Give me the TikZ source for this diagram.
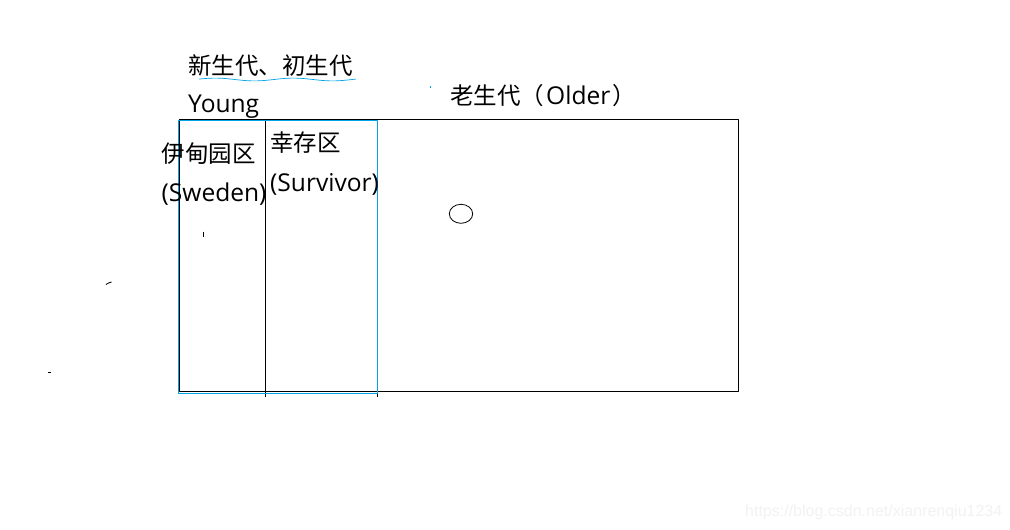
\documentclass[tikz,border=0pt]{standalone}
\usepackage{fontspec}
\newfontfamily\cjk{Noto Sans CJK SC}
\newfontfamily\latin[Scale=1.045]{Open Sans}
\newfontfamily\markfont{Liberation Sans}
\definecolor{paintblue}{RGB}{0,162,232}
\tikzset{
  lbl/.style={anchor=base west, inner sep=0pt, font=\fontsize{23.5}{28}\selectfont},
  heapline/.style={draw=black, line width=1pt},
  youngline/.style={draw=paintblue, line width=1.3pt},
}
\begin{document}
\begin{tikzpicture}[x=1pt, y=-1pt, line join=round]
\useasboundingbox[fill=white] (0,0) rectangle (1010,530);
\def\xl{179} \def\xm{265.5} \def\xs{377.3} \def\xr{738}
\def\yt{119.5} \def\yb{391.5}
% heap
\draw[heapline] (\xl,\yt) rectangle (\xr,\yb);
\draw[heapline] (\xm,\yt) -- (\xm,397);
\draw[heapline] (\xs,393) -- (\xs,397);
\draw[youngline] (178.5,120.7) rectangle (\xs,393.7);
% labels
\node[lbl] (young-cn) at (188,74) {\cjk 新生代、初生代};
\draw[paintblue, line width=0.7pt, domain=199:356, samples=80] plot (\x,{79.5+1.4*sin(4.6*\x)});
\node[lbl] (young-en) at (188,112.7) {\latin Young};
\node[lbl] (eden-cn) at (161.5,162.5) {\cjk 伊甸园区};
\node[lbl] (eden-en) at (161.5,201.5) {\latin (Sweden)};
\node[lbl] (surv-cn) at (270,151) {\cjk 幸存区};
\node[lbl] (surv-en) at (270,191.5) {\latin (Survivor)};
\node[lbl] (old) at (450,104.3) {\cjk 老生代（\hspace{2pt}\latin Older\hspace{2pt}\cjk ）};
% object
\draw[line width=0.8pt] (461,213.8) ellipse [x radius=11.7pt, y radius=9.5pt];
% stray marks
\draw[line width=1pt] (203.5,231.5) -- (203.5,236.5);
\draw[line width=0.8pt] (106,284.5) -- (108.5,283) -- (111.5,282);
\fill (48,371.8) rectangle (50.5,372.9);
\fill[paintblue] (429.5,86) rectangle (431,88);
% watermark
\node[anchor=base west, inner sep=0pt, font=\markfont\fontsize{16}{18}\selectfont, text=black!5] (mark) at (745,516.7) {https://blog.csdn.net/xianrenqiu1234};
\end{tikzpicture}
\end{document}
